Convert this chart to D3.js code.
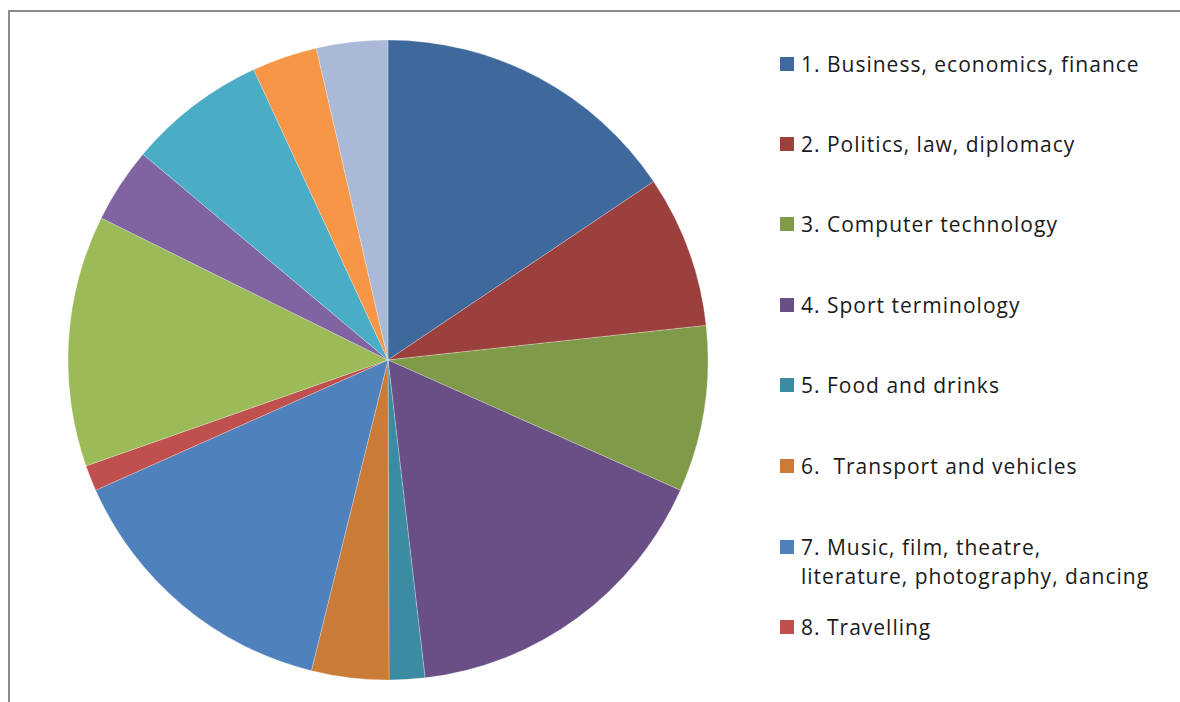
<!DOCTYPE html>
<html>
<head>
<meta charset="utf-8">
<title>Topics pie</title>
<script src="https://cdnjs.cloudflare.com/ajax/libs/d3/7.8.5/d3.min.js"></script>
<style>
  body { margin: 0; background: #fff; }
  svg text { font-family: "Open Sans", "Noto Sans", sans-serif; fill: #1a1a1a; letter-spacing: 1px; }
</style>
</head>
<body>
<svg id="chart" width="1180" height="702"></svg>
<script>
// slice shares in percent, clockwise from 12 o'clock
var categories = [
  "1. Business, economics, finance",
  "2. Politics, law, diplomacy",
  "3. Computer technology",
  "4. Sport terminology",
  "5. Food and drinks",
  "6.  Transport and vehicles",
  "7. Music, film, theatre, literature, photography, dancing",
  "8. Travelling",
  "9", "10", "11", "12", "13"
];
var values = [15.6, 7.7, 8.4, 16.5, 1.8, 3.9, 14.5, 1.3, 12.7, 3.8, 7.0, 3.3, 3.6];
var colors = ["#3f699c", "#9c403e", "#7f9a48", "#6a4f87", "#3b8ca3", "#cb7b38",
              "#4f81bd", "#c0504d", "#9bbb59", "#8064a2", "#4bacc6", "#f79646", "#aab9d6"];
// legend only had room for the first eight entries
var legendLines = [
  ["1. Business, economics, finance"],
  ["2. Politics, law, diplomacy"],
  ["3. Computer technology"],
  ["4. Sport terminology"],
  ["5. Food and drinks"],
  ["6.\u00a0 Transport and vehicles"],
  ["7. Music, film, theatre,", "literature, photography, dancing"],
  ["8. Travelling"]
];

var svg = d3.select("#chart");

// chart area border (cropped at right and bottom)
svg.append("path")
  .attr("d", "M9,702 V11 H1180")
  .attr("fill", "none")
  .attr("stroke", "#8c8c8c")
  .attr("stroke-width", 2);

var cx = 388, cy = 360, r = 320;
var pie = d3.pie().sort(null).value(function(d) { return d; });
var arc = d3.arc().innerRadius(0).outerRadius(r);

var g = svg.append("g").attr("transform", "translate(" + cx + "," + cy + ")");
g.selectAll("path")
  .data(pie(values))
  .enter().append("path")
  .attr("d", arc)
  .attr("fill", function(d, i) { return colors[i]; })
  .attr("stroke", "#ffffff")
  .attr("stroke-width", 0.5)
  .attr("stroke-opacity", 0.5);

// legend
var rowY = [64, 144, 224, 305, 385, 466, 547, 627];
var leg = svg.append("g");
var items = leg.selectAll("g.item")
  .data(legendLines)
  .enter().append("g")
  .attr("class", "item")
  .attr("transform", function(d, i) { return "translate(780," + rowY[i] + ")"; });

items.append("rect")
  .attr("x", 0).attr("y", -7)
  .attr("width", 14).attr("height", 14)
  .attr("fill", function(d, i) { return colors[i]; });

items.each(function(lines) {
  var t = d3.select(this).append("text")
    .attr("x", 21).attr("y", 8)
    .style("font-size", "21px");
  lines.forEach(function(s, k) {
    t.append("tspan").attr("x", 21).attr("dy", k === 0 ? 0 : 29).text(s);
  });
});
</script>
</body>
</html>
